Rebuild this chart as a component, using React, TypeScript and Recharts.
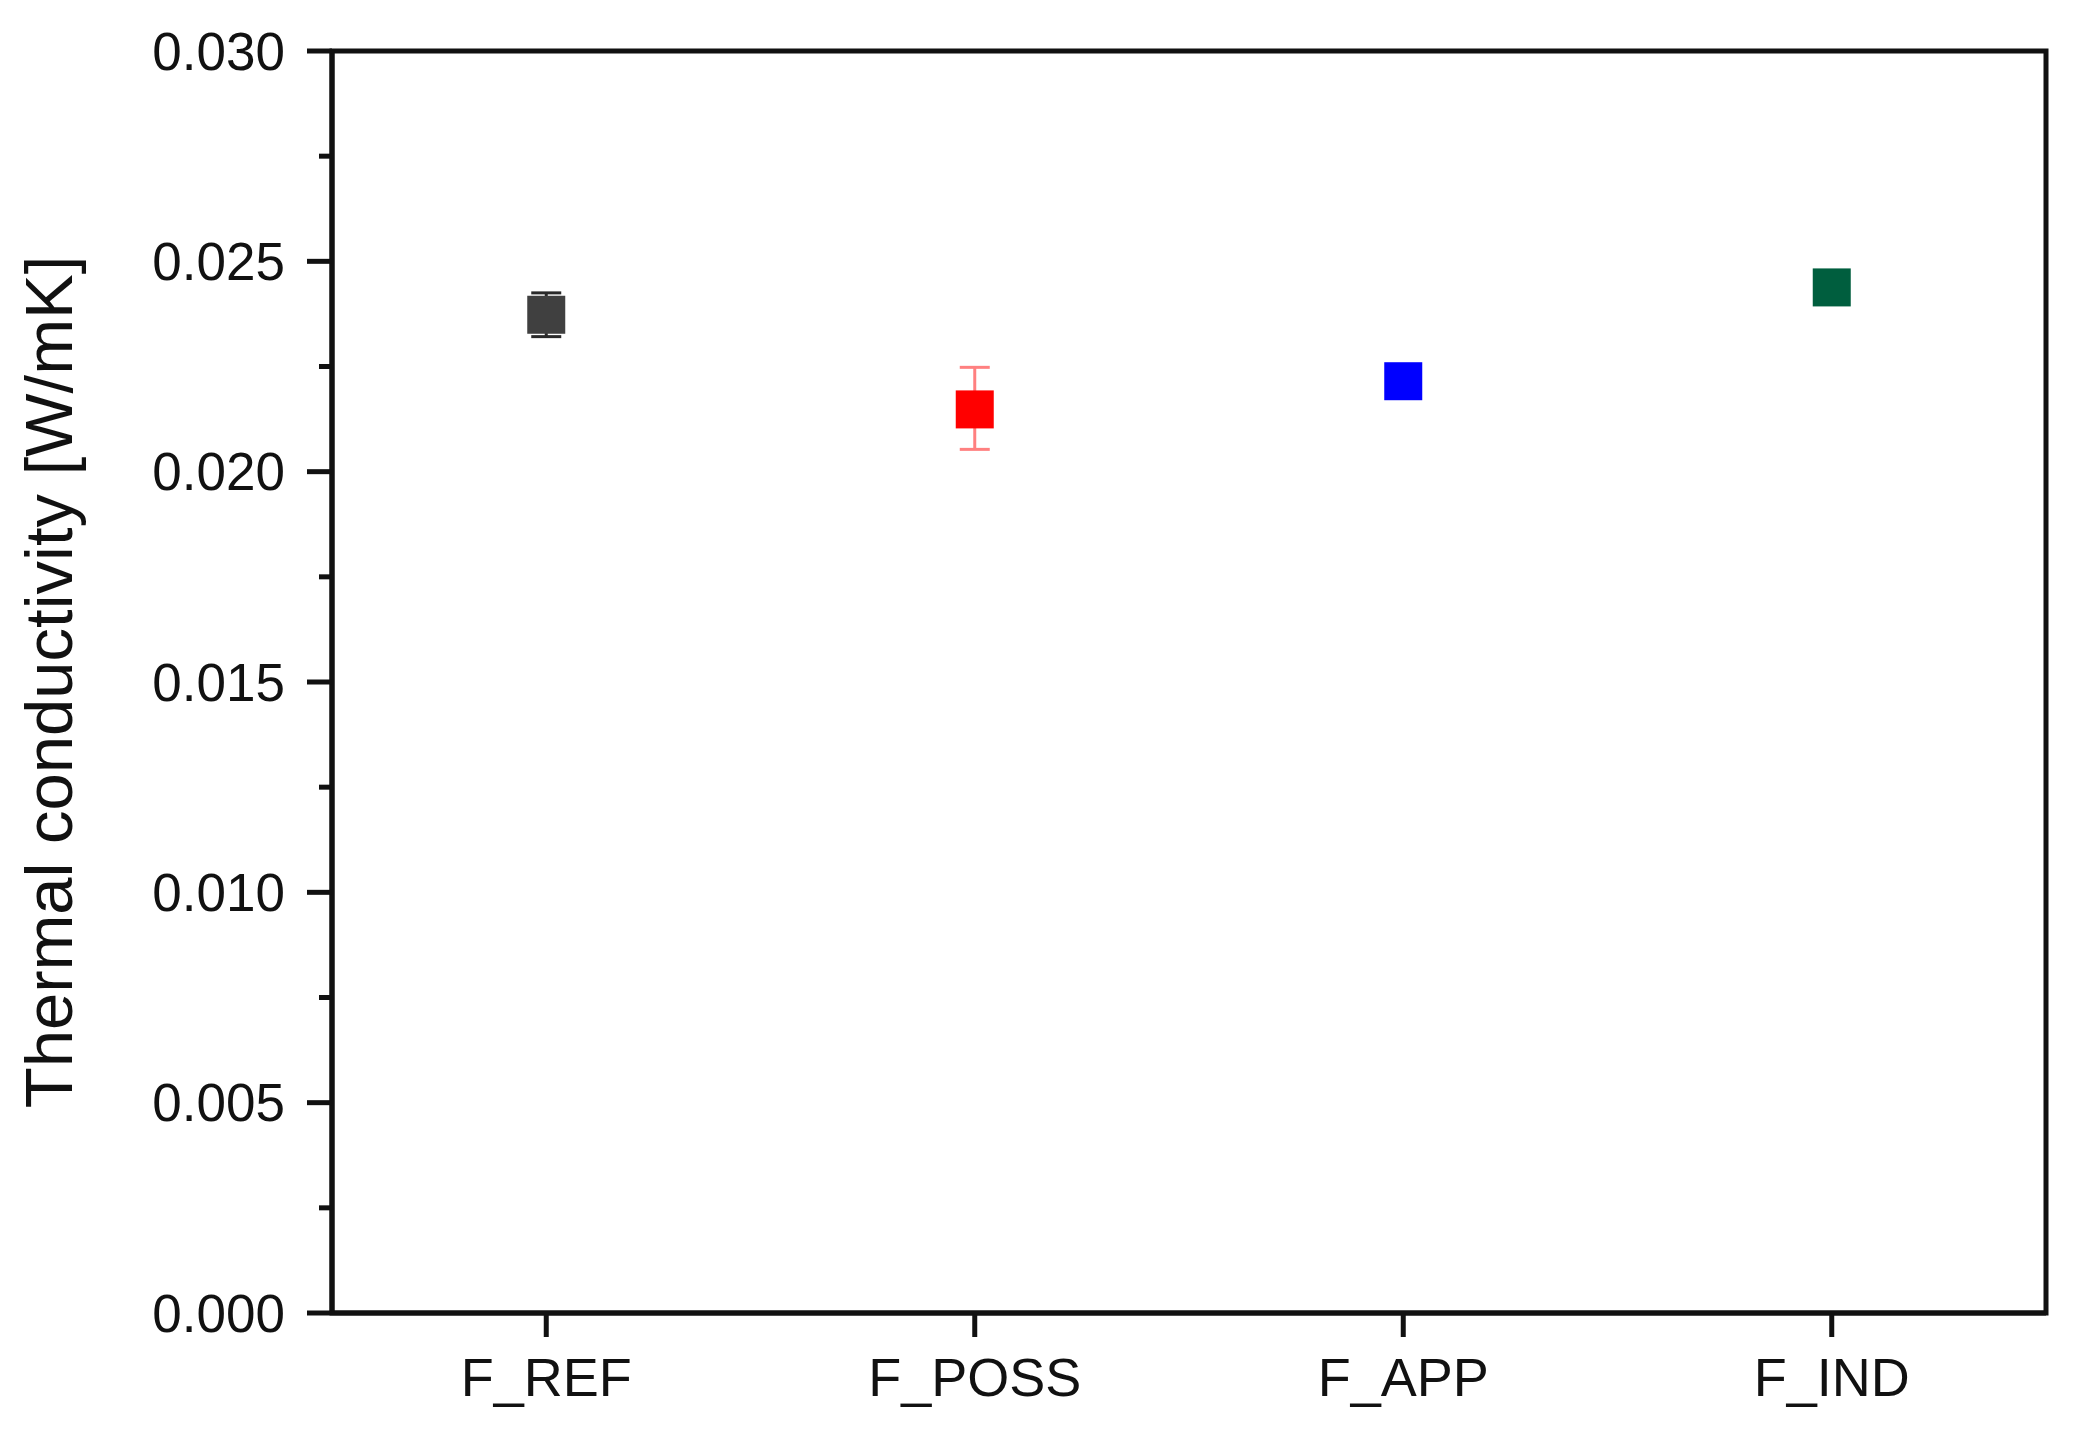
import React from "react";
import {
  ScatterChart,
  Scatter,
  XAxis,
  YAxis,
  ErrorBar,
  ReferenceArea,
} from "recharts";

// samples and measured values (W/mK)
const categories = ["F_REF", "F_POSS", "F_APP", "F_IND"];
const values = [0.02373, 0.02148, 0.02215, 0.02438];
// [minus, plus] error
const errors: [number, number][] = [
  [0.00052, 0.00052],
  [0.00095, 0.001],
  [0.0002, 0.0002],
  [0.0002, 0.0002],
];
const markerColors = ["#404040", "#ff0000", "#0000ff", "#005e3e"];
const errorColors = ["#2a2a2a", "#ff8080", "#0000ff", "#005e3e"];

const yTicks = [
  0, 0.0025, 0.005, 0.0075, 0.01, 0.0125, 0.015, 0.0175, 0.02, 0.0225, 0.025,
  0.0275, 0.03,
];

const AXIS = "#111111";
const FONT = "'Liberation Sans', Arial, sans-serif";
const LINE_W = 5;
const TICK_SIZE = 25;
const TICK_MARGIN = 22;

const YTick = (props: any) => {
  const { x, y, payload } = props;
  const v = payload.value;
  const major = Math.abs(Math.round(v * 1000) % 5) === 0;
  const axisX = x + TICK_SIZE + TICK_MARGIN;
  const len = major ? TICK_SIZE : 13;
  return (
    <g>
      <line x1={axisX - len} y1={y} x2={axisX} y2={y} stroke={AXIS} strokeWidth={LINE_W} />
      {major && (
        <text
          x={x}
          y={y}
          textAnchor="end"
          dominantBaseline="central"
          fontSize={53}
          fontFamily={FONT}
          fill={AXIS}
        >
          {v.toFixed(3)}
        </text>
      )}
    </g>
  );
};

const YLabel = (props: any) => {
  const { viewBox } = props;
  const cx = 72;
  const cy = viewBox.y + viewBox.height / 2;
  return (
    <text
      x={cx}
      y={cy}
      transform={`rotate(-90, ${cx}, ${cy})`}
      textAnchor="middle"
      fontSize={67}
      fontFamily={FONT}
      fill={AXIS}
    >
      Thermal conductivity [W/mK]
    </text>
  );
};

const series = categories.map((name, i) => ({
  name,
  data: [{ name, value: values[i], err: errors[i] }],
  color: markerColors[i],
  errColor: errorColors[i],
}));

export default function App() {
  return (
    <div style={{ position: "absolute", left: 0, top: 0, background: "#fff" }}>
      <ScatterChart
        width={2079}
        height={1436}
        margin={{ top: 51, right: 33, bottom: 23, left: 0 }}
      >
        <XAxis
          dataKey="name"
          type="category"
          allowDuplicatedCategory={false}
          scale="band"
          height={100}
          tickSize={24}
          tickMargin={21}
          axisLine={{ stroke: AXIS, strokeWidth: LINE_W }}
          tickLine={{ stroke: AXIS, strokeWidth: LINE_W }}
          tick={{ fontSize: 54, fontFamily: FONT, fill: AXIS }}
        />
        <YAxis
          dataKey="value"
          type="number"
          domain={[0, 0.03]}
          ticks={yTicks}
          interval={0}
          width={332}
          tickSize={TICK_SIZE}
          tickMargin={TICK_MARGIN}
          tickLine={false}
          axisLine={{ stroke: AXIS, strokeWidth: LINE_W }}
          tick={<YTick />}
          label={<YLabel />}
        />
        {/* frame around the plot area */}
        <ReferenceArea
          y1={0}
          y2={0.03}
          fill="none"
          fillOpacity={0}
          stroke={AXIS}
          strokeWidth={LINE_W}
          ifOverflow="visible"
        />
        {series.map((s) => (
          <Scatter
            key={s.name}
            name={s.name}
            data={s.data}
            isAnimationActive={false}
            fill={s.color}
            shape={(p: any) => (
              <rect
                x={p.cx - 19}
                y={p.cy - 19}
                width={38}
                height={38}
                fill={s.color}
              />
            )}
          >
            <ErrorBar
              dataKey="err"
              direction="y"
              width={15}
              stroke={s.errColor}
              strokeWidth={3}
            />
          </Scatter>
        ))}
      </ScatterChart>
    </div>
  );
}
